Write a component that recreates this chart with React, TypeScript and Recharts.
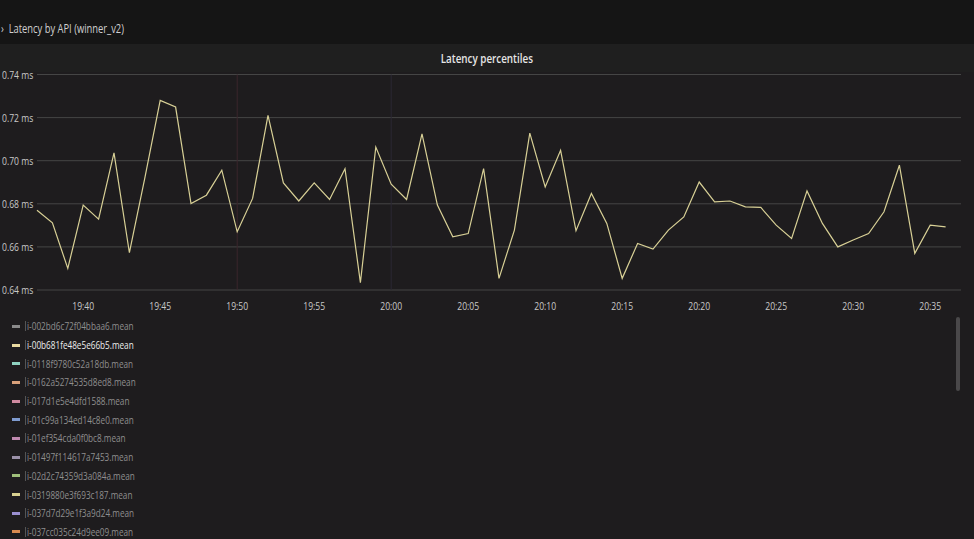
import React from "react";
import { LineChart, Line, XAxis, YAxis, CartesianGrid, ReferenceLine } from "recharts";

const times = [
  "19:37", "19:38", "19:39", "19:40", "19:41", "19:42", "19:43", "19:44", "19:45", "19:46",
  "19:47", "19:48", "19:49", "19:50", "19:51", "19:52", "19:53", "19:54", "19:55", "19:56",
  "19:57", "19:58", "19:59", "20:00", "20:01", "20:02", "20:03", "20:04", "20:05", "20:06",
  "20:07", "20:08", "20:09", "20:10", "20:11", "20:12", "20:13", "20:14", "20:15", "20:16",
  "20:17", "20:18", "20:19", "20:20", "20:21", "20:22", "20:23", "20:24", "20:25", "20:26",
  "20:27", "20:28", "20:29", "20:30", "20:31", "20:32", "20:33", "20:34", "20:35", "20:36",
];

const latencyMs = [
  0.677, 0.6712, 0.650, 0.6794, 0.6729, 0.7036, 0.6573, 0.6919, 0.728, 0.7249,
  0.6801, 0.684, 0.6956, 0.667, 0.6825, 0.721, 0.6897, 0.6813, 0.6897, 0.682,
  0.6963, 0.6434, 0.7063, 0.6891, 0.682, 0.7125, 0.6794, 0.6647, 0.6662, 0.6963,
  0.6454, 0.6678, 0.7128, 0.6878, 0.7048, 0.6675, 0.6848, 0.6709, 0.6454, 0.6616,
  0.659, 0.6678, 0.6739, 0.6901, 0.6809, 0.6813, 0.6786, 0.6783, 0.6701, 0.6639,
  0.686, 0.6709, 0.66, 0.6632, 0.6662, 0.6763, 0.6979, 0.657, 0.6701, 0.6693,
];

const xTickLabels = ["19:40", "19:45", "19:50", "19:55", "20:00", "20:05", "20:10", "20:15", "20:20", "20:25", "20:30", "20:35"];
const yTicks = [0.64, 0.66, 0.68, 0.7, 0.72, 0.74];

const legendNames = [
  "i-002bd6c72f04bbaa6.mean",
  "i-00b681fe48e5e66b5.mean",
  "i-0118f9780c52a18db.mean",
  "i-0162a5274535d8ed8.mean",
  "i-017d1e5e4dfd1588.mean",
  "i-01c99a134ed14c8e0.mean",
  "i-01ef354cda0f0bc8.mean",
  "i-01497f114617a7453.mean",
  "i-02d2c74359d3a084a.mean",
  "i-0319880e3f693c187.mean",
  "i-037d7d29e1f3a9d24.mean",
  "i-037cc035c24d9ee09.mean",
];
const legendColors = [
  "#8a8a8a", "#e8d9a0", "#8fd1c0", "#d9a07a", "#d08aa0", "#7f9bd0",
  "#c08ab0", "#9a90a8", "#9fbf7a", "#d8d090", "#9a8fd0", "#d98a50",
];

const toMin = (t: string) => {
  const [h, m] = t.split(":").map(Number);
  return h * 60 + m;
};
const fmtMin = (v: number) => {
  const h = Math.floor(v / 60);
  const m = v % 60;
  return `${h}:${m < 10 ? "0" : ""}${m}`;
};

const data = times.map((t, i) => ({ t: toMin(t), v: latencyMs[i] }));
const xTicks = xTickLabels.map(toMin);

const FONT = "'Open Sans', 'Noto Sans', sans-serif";
const SQ = 0.78;

const YTick = (props: any) => {
  const { y, payload } = props;
  return (
    <g transform={`translate(2,${y})`}>
      <text transform={`scale(${SQ},1)`} x={0} y={0} dy={4} fill="#c8c8c8" fontSize={11} fontFamily={FONT} textAnchor="start">
        {Number(payload.value).toFixed(2)} ms
      </text>
    </g>
  );
};

const XTick = (props: any) => {
  const { x, y, payload } = props;
  return (
    <g transform={`translate(${x},${y})`}>
      <text transform={`scale(${SQ},1)`} x={0} y={0} dy={12} fill="#c8c8c8" fontSize={11} fontFamily={FONT} textAnchor="middle">
        {fmtMin(payload.value)}
      </text>
    </g>
  );
};

export default function App() {
  return (
    <div
      style={{
        position: "absolute",
        left: 0,
        top: 0,
        width: 974,
        height: 539,
        background: "#1e1c1e",
        overflow: "hidden",
        fontFamily: FONT,
      }}
    >
      <div style={{ position: "absolute", left: 0, top: 0, width: 974, height: 44, background: "#151515" }} />
      <div style={{ position: "absolute", left: 0, top: 44, width: 974, height: 28, background: "#1f1f1f" }} />
      <div
        style={{
          position: "absolute",
          left: 1,
          top: 20,
          fontSize: 12,
          color: "#d0d0d0",
          whiteSpace: "nowrap",
          transform: `scaleX(${SQ})`,
          transformOrigin: "left center",
        }}
      >
        ›&nbsp;&nbsp;Latency by API (winner_v2)
      </div>
      <div
        style={{
          position: "absolute",
          left: 0,
          width: 974,
          top: 50,
          textAlign: "center",
          fontSize: 12,
          fontWeight: 600,
          color: "#e6e6e6",
          transform: `scaleX(${SQ + 0.04})`,
          transformOrigin: "486px center",
        }}
      >
        Latency percentiles
      </div>
      <div style={{ position: "absolute", left: 0, top: 0 }}>
        <LineChart width={974} height={320} data={data} margin={{ top: 74.5, right: 13, bottom: 0, left: 1 }}>
          <CartesianGrid horizontal vertical={false} stroke="#454545" strokeWidth={1} />
          <XAxis
            dataKey="t"
            type="number"
            domain={[toMin("19:37"), toMin("20:37")]}
            ticks={xTicks}
            axisLine={false}
            tickLine={false}
            height={30}
            tick={<XTick />}
            interval={0}
          />
          <YAxis
            type="number"
            domain={[0.64, 0.74]}
            ticks={yTicks}
            axisLine={false}
            tickLine={false}
            width={36}
            tick={<YTick />}
            interval={0}
          />
          <ReferenceLine x={toMin("19:50")} stroke="#3a262c" strokeWidth={1} />
          <ReferenceLine x={toMin("20:00")} stroke="#2a2834" strokeWidth={1} />
          <Line
            type="linear"
            dataKey="v"
            stroke="#d8d096"
            strokeWidth={1.2}
            dot={false}
            isAnimationActive={false}
          />
        </LineChart>
      </div>
      <div style={{ position: "absolute", left: 0, top: 317 }}>
        {legendNames.map((name, i) => (
          <div
            key={name}
            style={{ display: "flex", alignItems: "center", height: 18.7, fontSize: 10.5, whiteSpace: "nowrap" }}
          >
            <span style={{ display: "inline-block", width: 8, height: 3, marginLeft: 12, background: legendColors[i] }} />
            <span style={{ display: "inline-block", width: 1, height: 10, marginLeft: 5, background: "#555" }} />
            <span
              style={{
                display: "inline-block",
                marginLeft: 1,
                color: i === 1 ? "#ececec" : "#8e8e8e",
                transform: `scaleX(${SQ})`,
                transformOrigin: "left center",
              }}
            >
              {name}
            </span>
          </div>
        ))}
      </div>
      <div
        style={{
          position: "absolute",
          left: 956,
          top: 317,
          width: 4,
          height: 74,
          borderRadius: 2,
          background: "#4a484a",
        }}
      />
    </div>
  );
}
